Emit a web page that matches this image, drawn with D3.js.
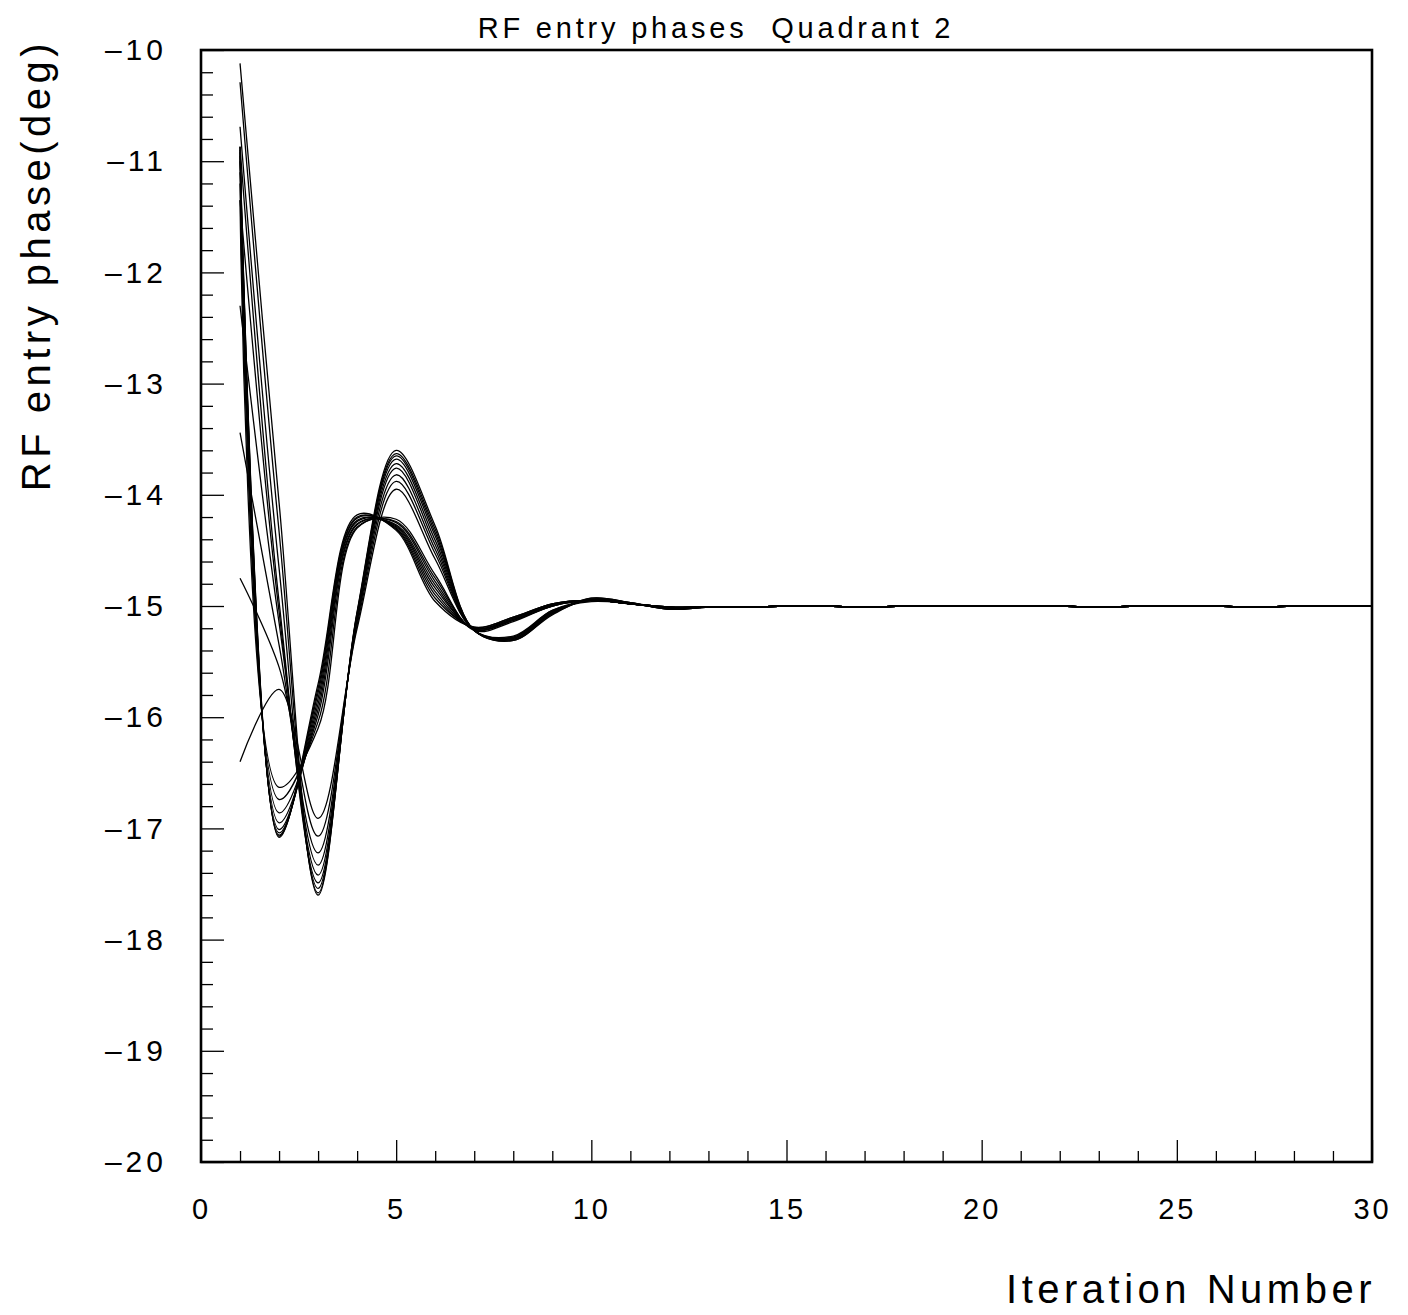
<!DOCTYPE html>
<html>
<head>
<meta charset="utf-8">
<script src="https://cdn.jsdelivr.net/npm/d3@7"></script>
<style>
  html, body { margin: 0; padding: 0; background: #fff; }
  svg { display: block; }
  text { font-family: "Liberation Sans", Arial, sans-serif; fill: #000; }
</style>
</head>
<body>
<svg id="chart" width="1408" height="1315"></svg>
<script>
// Iteration numbers at which the entry phase is recorded
const iterations = [1, 2, 3, 4, 5, 6, 7, 8, 9, 10, 11, 12, 13, 14, 15,
                    16, 17, 18, 19, 20, 21, 22, 23, 24, 25, 26, 27, 28, 29, 30];

// Phases (deg) once the loop has settled, iterations 13..30 (same for every run)
const settledPhase = [-15.01, -15.01, -15.00, -15.00, -15.01, -15.00, -15.00, -15.00, -15.00,
                      -15.00, -15.01, -15.00, -15.00, -15.00, -15.01, -15.00, -15.00, -15.00];

// Runs whose first undershoot falls on iteration 3, iterations 1..12
const slowRunsHead = [
  [-10.12, -14.07, -17.60, -15.05, -13.60, -14.28, -15.22, -15.31, -15.08, -14.93, -14.97, -15.03],
  [-10.29, -14.33, -17.58, -15.06, -13.63, -14.31, -15.22, -15.31, -15.07, -14.93, -14.97, -15.03],
  [-10.69, -14.66, -17.54, -15.07, -13.65, -14.34, -15.22, -15.30, -15.07, -14.94, -14.97, -15.03],
  [-10.87, -14.96, -17.49, -15.08, -13.68, -14.37, -15.22, -15.30, -15.06, -14.94, -14.97, -15.02],
  [-11.35, -15.05, -17.42, -15.10, -13.72, -14.41, -15.22, -15.29, -15.06, -14.94, -14.98, -15.02],
  [-12.30, -15.15, -17.33, -15.12, -13.76, -14.45, -15.22, -15.29, -15.05, -14.95, -14.98, -15.02],
  [-13.44, -15.35, -17.22, -15.14, -13.82, -14.49, -15.22, -15.28, -15.05, -14.95, -14.98, -15.02],
  [-14.75, -15.55, -17.07, -15.17, -13.88, -14.53, -15.22, -15.28, -15.04, -14.95, -14.98, -15.02],
  [-16.40, -15.75, -16.91, -15.20, -13.95, -14.58, -15.22, -15.27, -15.04, -14.96, -14.98, -15.02]
];

// Runs whose first undershoot falls on iteration 2, iterations 1..12
const fastRunsHead = [
  [-10.87, -17.08, -15.70, -14.18, -14.32, -14.96, -15.19, -15.10, -14.98, -14.95, -14.98, -15.01],
  [-10.87, -17.07, -15.74, -14.20, -14.31, -14.93, -15.19, -15.10, -14.98, -14.95, -14.98, -15.01],
  [-10.90, -17.06, -15.78, -14.21, -14.30, -14.90, -15.20, -15.11, -14.98, -14.95, -14.98, -15.01],
  [-10.92, -17.04, -15.83, -14.23, -14.29, -14.87, -15.20, -15.11, -14.99, -14.95, -14.98, -15.01],
  [-10.95, -17.01, -15.88, -14.24, -14.28, -14.84, -15.20, -15.12, -14.99, -14.95, -14.98, -15.01],
  [-11.00, -16.95, -15.93, -14.26, -14.27, -14.81, -15.21, -15.12, -14.99, -14.95, -14.98, -15.01],
  [-11.10, -16.86, -15.98, -14.27, -14.25, -14.78, -15.21, -15.13, -15.00, -14.95, -14.98, -15.01],
  [-11.20, -16.74, -16.04, -14.29, -14.24, -14.75, -15.21, -15.13, -15.00, -14.95, -14.98, -15.01],
  [-11.35, -16.63, -16.10, -14.30, -14.22, -14.72, -15.22, -15.14, -15.00, -14.95, -14.98, -15.01]
];

// Axis ticks
const xMajorTicks = [0, 5, 10, 15, 20, 25, 30];
const xMinorTicks = [1, 2, 3, 4, 6, 7, 8, 9, 11, 12, 13, 14, 16, 17, 18, 19,
                     21, 22, 23, 24, 26, 27, 28, 29];
const yMajorTicks = [-10, -11, -12, -13, -14, -15, -16, -17, -18, -19, -20];

const chartTitle = "RF entry phases  Quadrant 2";
const xTitle = "Iteration Number";
const yTitle = "RF entry phase(deg)";

// ---- layout ----
const plot = { left: 201, top: 50, right: 1372, bottom: 1162 };
const svg = d3.select("#chart");

const x = d3.scaleLinear().domain([0, 30]).range([plot.left, plot.right]);
const y = d3.scaleLinear().domain([-20, -10]).range([plot.bottom, plot.top]);

const yMinorTicks = [];
for (let v = -20; v < -10 + 1e-9; v += 0.2) {
  const r = Math.round(v * 10) / 10;
  if (Math.abs(r - Math.round(r)) > 1e-6) yMinorTicks.push(r);
}

// long dash for the minus sign, as on the printed axis
const fmtY = d => (d < 0 ? "\u2013" : "") + Math.abs(d);
const fmtX = d => String(d);

// minor ticks (drawn inward)
svg.append("g")
  .attr("transform", `translate(${plot.left},0)`)
  .call(d3.axisLeft(y).tickValues(yMinorTicks).tickSize(-12).tickFormat(""))
  .call(g => g.select(".domain").remove());
svg.append("g")
  .attr("transform", `translate(0,${plot.bottom})`)
  .call(d3.axisBottom(x).tickValues(xMinorTicks).tickSize(-11).tickFormat(""))
  .call(g => g.select(".domain").remove());

// major ticks and labels
const yAxis = svg.append("g")
  .attr("transform", `translate(${plot.left},0)`)
  .call(d3.axisLeft(y).tickValues(yMajorTicks).tickSize(-23).tickPadding(34).tickFormat(fmtY));
yAxis.select(".domain").remove();
yAxis.selectAll("text")
  .style("font-size", "30px")
  .attr("letter-spacing", "4px");

const xAxis = svg.append("g")
  .attr("transform", `translate(0,${plot.bottom})`)
  .call(d3.axisBottom(x).tickValues(xMajorTicks).tickSize(-22).tickPadding(36).tickFormat(fmtX));
xAxis.select(".domain").remove();
xAxis.selectAll("text")
  .style("font-size", "29px")
  .attr("letter-spacing", "3px");

svg.selectAll(".tick line").attr("stroke", "#000").attr("stroke-width", 1.3);

// curves: smooth line through every recorded iteration
const line = d3.line()
  .x((d, i) => x(iterations[i]))
  .y(d => y(d))
  .curve(d3.curveCatmullRom.alpha(0.5));

const runs = fastRunsHead.concat(slowRunsHead).map(h => h.concat(settledPhase));

svg.append("clipPath").attr("id", "plotClip")
  .append("rect")
  .attr("x", plot.left).attr("y", plot.top)
  .attr("width", plot.right - plot.left).attr("height", plot.bottom - plot.top);

svg.append("g")
  .attr("clip-path", "url(#plotClip)")
  .selectAll("path")
  .data(runs)
  .join("path")
  .attr("d", line)
  .attr("fill", "none")
  .attr("stroke", "#000")
  .attr("stroke-width", 1.3);

// frame
svg.append("rect")
  .attr("x", plot.left).attr("y", plot.top)
  .attr("width", plot.right - plot.left).attr("height", plot.bottom - plot.top)
  .attr("fill", "none").attr("stroke", "#000").attr("stroke-width", 2.6);

// titles
svg.append("text")
  .attr("x", 716).attr("y", 38)
  .attr("text-anchor", "middle")
  .attr("letter-spacing", "3.8px")
  .style("white-space", "pre")
  .style("font-size", "29px")
  .text(chartTitle);

svg.append("text")
  .attr("x", 1376).attr("y", 1303)
  .attr("text-anchor", "end")
  .attr("letter-spacing", "4.5px")
  .style("font-size", "40px")
  .text(xTitle);

svg.append("text")
  .attr("transform", "translate(50,265) rotate(-90)")
  .attr("text-anchor", "middle")
  .attr("letter-spacing", "4.5px")
  .style("font-size", "40px")
  .text(yTitle);
</script>
</body>
</html>
